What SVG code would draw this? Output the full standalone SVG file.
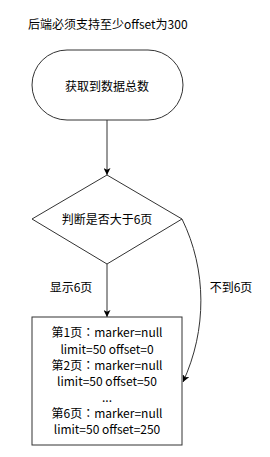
<svg xmlns="http://www.w3.org/2000/svg" width="270" height="457" viewBox="0 0 270 457">
<style>
text{font-family:"Noto Sans CJK SC","Noto Sans",sans-serif;font-size:12px;fill:#000;text-anchor:middle}
.c{font-family:"Noto Sans CJK TC",sans-serif}
.shape{fill:#fff;stroke:#333;stroke-width:1}
.edge{fill:none;stroke:#333;stroke-width:1}
</style>
<defs>
<marker id="arr" viewBox="0 0 10 10" refX="10" refY="5" markerWidth="7" markerHeight="7" markerUnits="userSpaceOnUse" orient="auto">
<path d="M0,0 L10,5 L0,10 L2.5,5 Z" fill="#000"/>
</marker>
</defs>
<rect width="270" height="457" fill="#fff"/>
<text x="28" y="29" style="text-anchor:start">后端必须支持至少offset为300</text>
<g id="edges">
<path class="edge" d="M107,120 L107,175" marker-end="url(#arr)"/>
<path class="edge" d="M107,264 L107,317" marker-end="url(#arr)"/>
<path class="edge" d="M182,219 C207,270 207,330 183,382" marker-end="url(#arr)"/>
<text x="71" y="292">显示6页</text>
<text x="231" y="292">不到6页</text>
</g>
<g id="start">
<rect class="shape" x="32" y="50" width="151" height="70" rx="35" ry="35"/>
<text x="107" y="91">获取到数据总数</text>
</g>
<g id="decision">
<polygon class="shape" points="107,175 182,219 107,264 32,219"/>
<text x="107" y="224">判断是否大于6页</text>
</g>
<g id="pages">
<rect class="shape" x="32" y="317" width="150" height="128"/>
<text x="107" y="337">第1页<tspan class="c">：</tspan>marker=null</text>
<text x="107" y="354">limit=50 offset=0</text>
<text x="107" y="370">第2页<tspan class="c">：</tspan>marker=null</text>
<text x="107" y="386">limit=50 offset=50</text>
<text x="107" y="402">...</text>
<text x="107" y="418">第6页<tspan class="c">：</tspan>marker=null</text>
<text x="107" y="434">limit=50 offset=250</text>
</g>
</svg>
